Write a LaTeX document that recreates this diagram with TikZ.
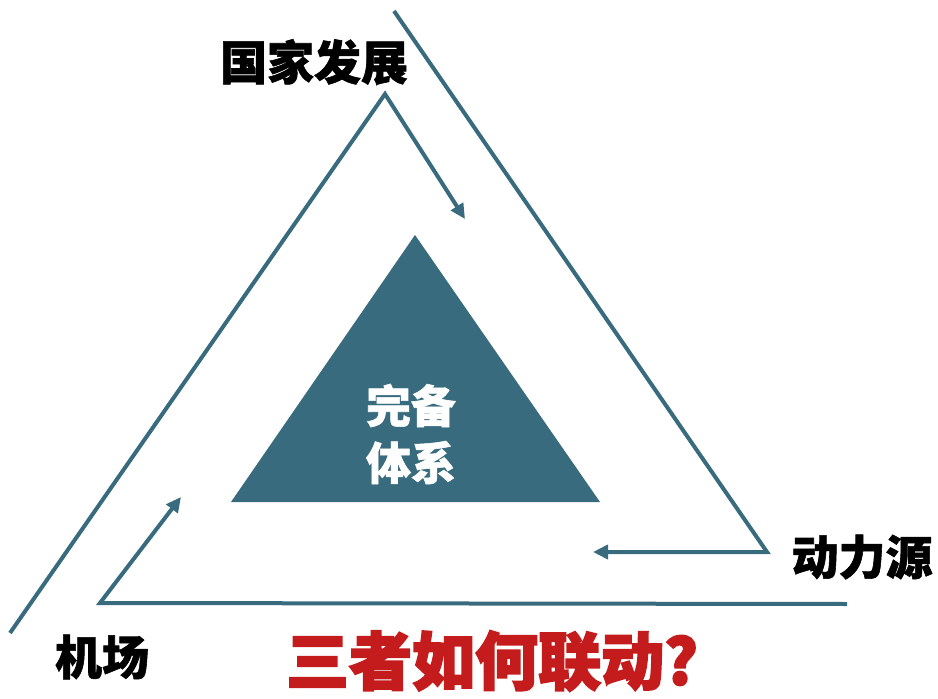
\documentclass[tikz,border=0pt]{standalone}
\usepackage{fontspec}
\setmainfont{Noto Sans CJK SC}
\newfontfamily\lbfont{Noto Sans CJK SC}[BoldFeatures={FakeBold=1.2}]
\newfontfamily\heavyfont{Noto Sans CJK SC}[BoldFeatures={FakeBold=3}]
\usetikzlibrary{arrows.meta}
\definecolor{lineteal}{HTML}{386B7E}
\definecolor{fillteal}{HTML}{386B7D}
\definecolor{qred}{HTML}{C41C1C}
\tikzset{
  tline/.style={draw=lineteal, line width=4pt, line join=miter},
  tarrow/.style={tline, -{Triangle[length=15pt,width=14pt]}},
  lbl/.style={font=\lbfont\fontsize{47}{50}\selectfont\bfseries, text=black, inner sep=0pt},
}
\begin{document}
\begin{tikzpicture}[x=1pt,y=-1pt]
\useasboundingbox (0,0) rectangle (938,699);
% coordinates
\coordinate (r0) at (394,11);
\coordinate (r1) at (767,552);
\coordinate (r2) at (593,552);
\coordinate (b0) at (847,604);
\coordinate (b1) at (100,603);
\coordinate (b2) at (181,497);
\coordinate (l0) at (10,633);
\coordinate (l1) at (385,94);
\coordinate (l2) at (465,219);
\coordinate (ta) at (415,235);
\coordinate (tl) at (231,502);
\coordinate (tr) at (600,502);
% inner triangle
\fill[fillteal] (ta) -- (tl) -- (tr) -- cycle;
\node[font=\lbfont\fontsize{45}{57}\selectfont\bfseries, text=white, align=center, inner sep=0pt] (core) at (411,434) {完备\\体系};
% lines
\draw[tarrow] (r0) -- (r1) -- (r2);
\draw[tarrow] (b0) -- (b1) -- (b2);
\draw[tarrow] (l0) -- (l1) -- (l2);
% labels
\node[lbl] (guojia) at (314,62) {国家发展};
\node[lbl] (dongli) at (862,557) {动力源};
\node[lbl] (jichang) at (102,657) {机场};
\node[font=\heavyfont\fontsize{63}{66}\selectfont\bfseries, text=qred, inner sep=0pt] (q) at (492,661) {三者如何联动?};
\end{tikzpicture}
\end{document}
